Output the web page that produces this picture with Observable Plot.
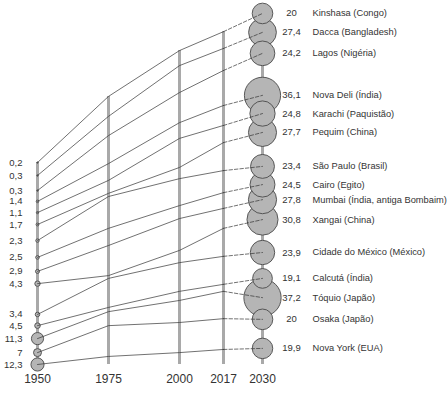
<!DOCTYPE html>
<html><head><meta charset="utf-8">
<script src="https://cdn.jsdelivr.net/npm/d3@7"></script>
<script src="https://cdn.jsdelivr.net/npm/@observablehq/plot@0.6"></script>
<style>body{margin:0;background:#fff} svg{display:block}</style>
</head><body><div id="chart"></div>
<script>
const cidades = ["Kinshasa (Congo)", "Dacca (Bangladesh)", "Lagos (Nigéria)", "Nova Deli (Índia)", "Karachi (Paquistão)", "Pequim (China)", "São Paulo (Brasil)", "Cairo (Egito)", "Mumbai (Índia, antiga Bombaim)", "Xangai (China)", "Cidade do México (México)", "Calcutá (Índia)", "Tóquio (Japão)", "Osaka (Japão)", "Nova York (EUA)"];
const anos = [1950, 1975, 2000, 2017, 2030];
// população (milhões)
const pop1950 = [0.2, 0.3, 0.3, 1.4, 1.1, 1.7, 2.3, 2.5, 2.9, 4.3, 3.4, 4.5, 11.3, 7, 12.3];
const pop2030 = [20, 27.4, 24.2, 36.1, 24.8, 27.7, 23.4, 24.5, 27.8, 30.8, 23.9, 19.1, 37.2, 20, 19.9];
// nível esquemático (0–100) de cada cidade em cada ano
const nivel1950 = [57.7, 54.0, 49.7, 46.6, 43.4, 40.0, 35.4, 30.6, 26.6, 23.1, 14.3, 11.1, 7.4, 3.4, 0];
const nivel1975 = [76.6, 70.9, 65.4, 57.4, 52.6, 48.9, 48.0, 38.9, 34.0, 25.4, 24.6, 16.3, 15.1, 11.1, 2.3];
const nivel2000 = [89.7, 85.4, 77.7, 69.1, 64.6, 56.3, 53.1, 45.4, 41.7, 32.6, 29.1, 20.9, 18.3, 12.0, 3.4];
const nivel2017 = [95.1, 90.3, 84.0, 74.0, 68.3, 63.4, 55.4, 49.1, 44.6, 38.9, 30.9, 22.9, 20.9, 13.1, 4.3];
const nivel2030 = [100.3, 94.9, 88.9, 76.9, 71.7, 66.3, 56.6, 51.4, 47.1, 41.4, 32.0, 24.6, 19.1, 12.9, 4.6];

const niveis = [nivel1950, nivel1975, nivel2000, nivel2017, nivel2030];
const tabela = cidades.map((c, i) => ({cidade: c, p1950: pop1950[i], p2030: pop2030[i], n1950: nivel1950[i], n2030: nivel2030[i]}));
const serie = cidades.flatMap((c, i) => anos.map((a, j) => ({cidade: c, ano: a, nivel: niveis[j][i]})));
const barras = anos.map((a, j) => ({ano: a, topo: d3.max(niveis[j])}));
const fmt = v => String(v).replace(".", ",");
const font = "'Liberation Sans', Arial, sans-serif";

const chart = Plot.plot({
  width: 447, height: 394, margin: 0,
  style: {fontFamily: font, background: "#fff"},
  x: {type: "linear", domain: anos, range: [37, 108, 179, 223, 262], axis: null},
  y: {domain: [0, 100], range: [364, 14], axis: null},
  r: {type: "linear", domain: [0, 40], range: [0.6, 20]},
  marks: [
    Plot.ruleX(barras, {x: "ano", y1: 0, y2: "topo", stroke: "#a9a9a9", strokeWidth: 3}),
    Plot.dot(tabela, {x: () => 1950, y: "n1950", r: "p1950", fill: "#b5b5b5", stroke: "#4a4a4a", strokeWidth: 0.9}),
    Plot.dot(tabela, {x: () => 2030, y: "n2030", r: "p2030", fill: "#b5b5b5", stroke: "#4a4a4a", strokeWidth: 0.9}),
    Plot.line(serie.filter(d => d.ano <= 2017), {x: "ano", y: "nivel", z: "cidade", stroke: "#333", strokeWidth: 0.7}),
    Plot.line(serie.filter(d => d.ano >= 2017), {x: "ano", y: "nivel", z: "cidade", stroke: "#333", strokeWidth: 0.7, strokeDasharray: "3.5,2"}),
    Plot.text(tabela, {x: () => 1950, y: "n1950", text: d => fmt(d.p1950), textAnchor: "end", dx: -15, fontSize: 9.5, fill: "#333"}),
    Plot.text(tabela, {x: () => 2030, y: "n2030", text: d => fmt(d.p2030), textAnchor: "middle", dx: 29, fontSize: 9.5, fill: "#333"}),
    Plot.text(tabela, {x: () => 2030, y: "n2030", text: "cidade", textAnchor: "start", dx: 50, fontSize: 9.3, fill: "#333"}),
    Plot.text(anos, {x: d => d, frameAnchor: "bottom", dy: -12, text: d => String(d), fontSize: 12, fill: "#333"})
  ]
});
document.getElementById("chart").append(chart);
</script>
</body></html>
